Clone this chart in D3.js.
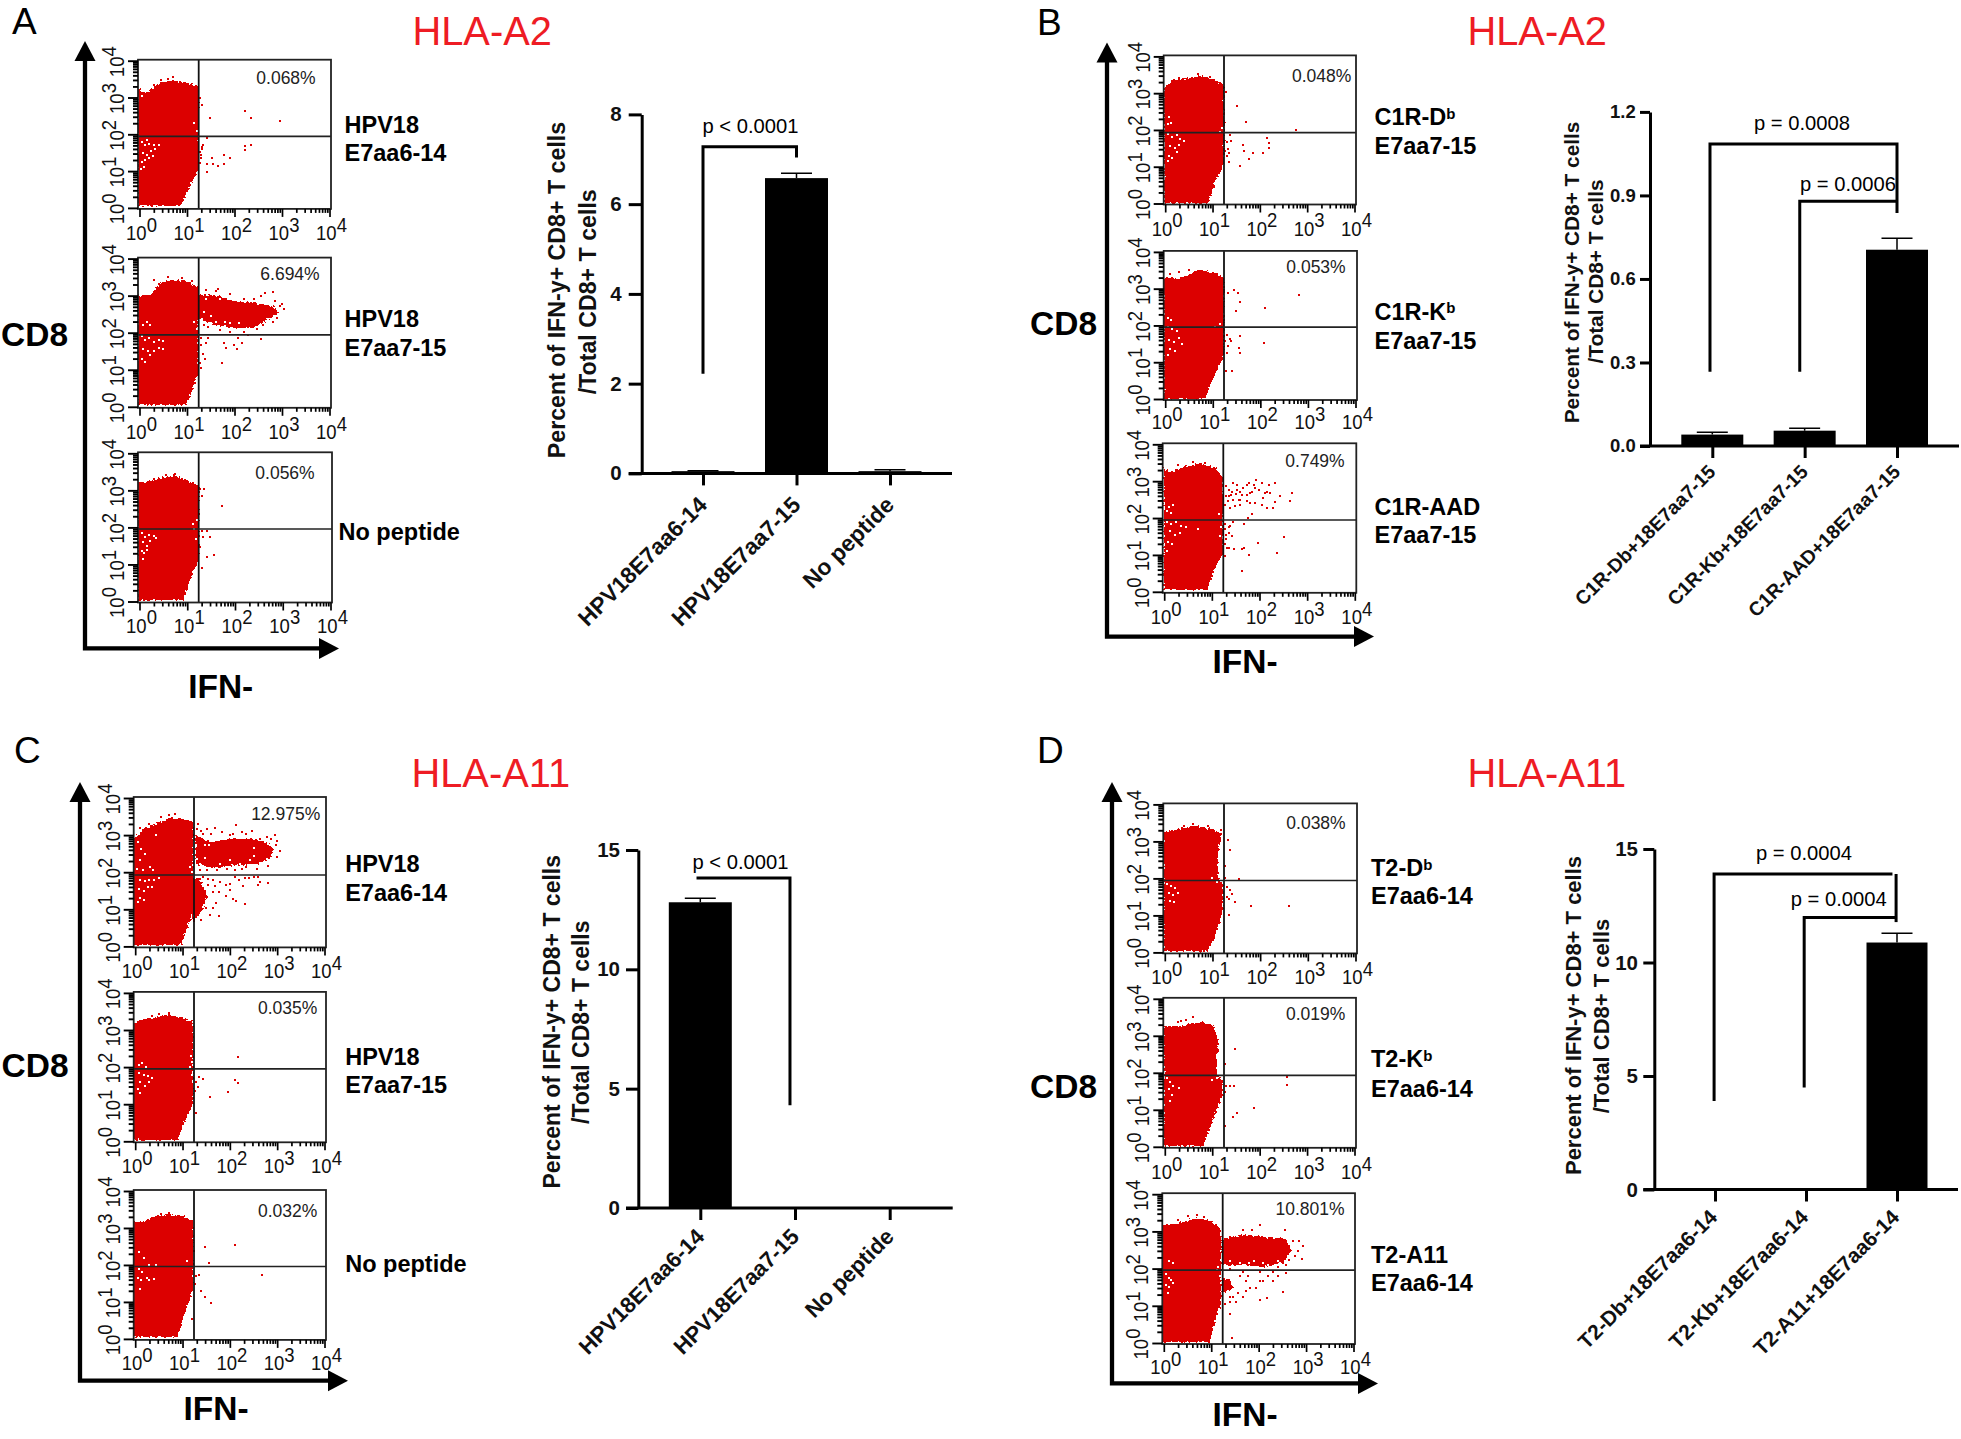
<!DOCTYPE html>
<html><head><meta charset="utf-8">
<script src="https://cdnjs.cloudflare.com/ajax/libs/d3/7.8.5/d3.min.js"></script>
<style>html,body{margin:0;padding:0;background:#fff}svg{display:block}text{font-family:"Liberation Sans",Arial,sans-serif}</style>
</head><body><svg id="c" width="1961" height="1439"></svg>
<script>
// ---- flow cytometry read-outs: all pairs are [log10 IFN, log10 CD8] ----
const flowExponents=[0,1,2,3,4];
const a1Cloud=[[[-.03,.04],[.85,.04],[1.02,.47],[1.23,1.03],[1.25,3.28],[1.06,3.38],[.71,3.46],[.42,3.4],[.25,3.2],[.07,3.14],[-.03,3.28]]];
const a1Events=[[1.31,2.8],[1.48,2.43],[2.22,2.64],[2.34,2.43],[2.96,2.37],[1.43,1.91],[2.22,1.68],[2.22,1.57],[2.34,1.72],[1.78,1.45],[1.9,1.35],[1.52,1.35],[1.43,1.18],[1.55,1.18],[1.66,1.13],[1.78,1.18],[1.43,.97],[1.31,1.66],[1.34,1.72],[1.27,1.53],[1.29,1.35],[1.27,1.22],[1.27,3.0],[1.3,1.45],[1.32,1.6],[.3,3.35],[.45,3.47],[.7,3.55],[.6,3.5],[.85,3.42],[1.1,3.3]];
const a1Holes=[[.05,1.8],[.12,1.7],[.2,1.75],[.3,1.72],[.08,1.5],[.16,1.45],[.25,1.55],[.33,1.6],[.05,1.25],[.12,1.3],[.2,1.35],[.1,1.1],[.04,1.05],[.4,1.7],[.15,1.85],[.28,1.4],[.06,3.05],[1.15,2.3],[1.2,2.1]];
const a2Cloud=[[[-.03,.04],[.99,.04],[1.23,.87],[1.25,3.22],[.99,3.39],[.71,3.43],[.42,3.34],[.25,3.03],[-.03,3.03]],[[1.25,3.03],[1.55,3.03],[1.98,2.85],[2.47,2.79],[2.82,2.72],[2.93,2.54],[2.68,2.35],[2.4,2.14],[1.98,2.14],[1.55,2.23],[1.25,2.41]]];
const a2Events=[[1.4,3.15],[1.6,3.12],[1.65,3.18],[1.9,3.05],[2.2,2.92],[2.4,2.9],[2.55,3.0],[2.65,3.08],[2.82,3.1],[2.85,2.85],[3.0,2.77],[3.05,2.65],[2.95,2.72],[2.9,2.4],[2.8,2.3],[2.6,2.2],[2.48,2.1],[2.2,2.02],[1.9,2.02],[1.7,2.08],[1.45,2.15],[1.35,2.2],[2.28,1.95],[1.41,1.73],[1.83,1.6],[1.77,1.73],[2.05,1.55],[2.15,1.73],[1.98,1.67],[2.08,1.86],[2.55,1.83],[1.73,1.18],[1.34,1.42],[1.45,1.86],[1.3,1.05],[1.27,1.18],[1.3,1.86],[1.38,1.3],[1.29,1.67],[.3,3.42],[.6,3.5],[.9,3.48],[1.1,3.4]];
const a2Holes=[[1.35,2.55],[1.5,2.45],[1.62,2.3],[1.8,2.3],[1.9,2.25],[2.1,2.25],[1.4,2.9],[1.7,2.9],[1.9,2.95],[1.3,2.25],[.05,1.9],[.12,1.8],[.2,1.85],[.3,1.75],[.4,1.8],[.5,1.78],[.08,1.55],[.18,1.5],[.3,1.5],[.4,1.6],[.05,1.3],[.12,1.2],[.22,1.4],[.5,1.55],[.08,2.2],[.15,2.3],[.22,2.2],[1.15,2.3],[1.2,2.1]];
const a3Cloud=[[[-.03,.04],[.92,.04],[1.09,.72],[1.25,1.16],[1.25,3.1],[.99,3.29],[.71,3.41],[.42,3.33],[.14,3.22],[-.03,3.22]]];
const a3Events=[[1.73,2.59],[1.27,3.04],[1.35,3.04],[1.3,2.85],[1.3,1.91],[1.41,1.91],[1.48,1.75],[1.34,1.75],[1.41,1.2],[1.55,1.25],[1.27,1.47],[1.3,.91],[.55,3.42],[.75,3.45],[.3,3.3]];
const a3Holes=[[.05,1.85],[.12,1.75],[.2,1.8],[.3,1.78],[.08,1.6],[.15,1.5],[.22,1.62],[.05,1.35],[.1,1.3],[.15,1.4],[.07,1.15],[.35,1.72],[1.12,2.1],[1.15,1.95],[1.18,1.7],[1.2,2.2]];
const b1Cloud=[[[-.02,.02],[.91,.02],[1.05,.57],[1.24,1.06],[1.24,3.19],[1.05,3.37],[.74,3.47],[.46,3.4],[.14,3.35],[-.02,3.12]]];
const b1Events=[[1.28,3.03],[1.52,2.64],[1.7,2.21],[2.76,1.99],[1.37,1.85],[1.3,1.67],[1.39,1.69],[1.33,1.48],[1.3,1.3],[1.35,1.12],[1.65,1.6],[1.66,1.42],[2.15,1.79],[2.19,1.64],[2.2,1.51],[1.85,1.36],[1.78,1.2],[2.06,1.36],[1.58,1.03],[1.35,1.36],[1.27,1.42],[.3,3.42],[.7,3.52],[.95,3.45]];
const b1Holes=[[.06,1.9],[.15,1.8],[.25,1.85],[.32,1.75],[.4,1.7],[.1,1.55],[.2,1.5],[.3,1.6],[.08,1.3],[.15,1.25],[.25,1.4],[.05,1.15],[.05,2.15],[.12,2.2],[.08,2.35],[1.15,1.95],[1.2,2.05]];
const b2Cloud=[[[-.02,.01],[.84,.01],[.98,.46],[1.24,1.2],[1.24,3.28],[1.02,3.44],[.7,3.52],[.39,3.31],[-.02,3.28]]];
const b2Events=[[1.33,2.87],[1.45,2.97],[1.52,2.89],[1.58,2.64],[1.49,2.4],[2.81,2.83],[2.1,2.48],[1.3,1.75],[1.37,1.63],[1.33,1.44],[1.3,1.26],[1.58,1.72],[1.56,1.38],[1.58,1.26],[2.07,1.51],[1.28,.77],[1.4,.75],[1.39,1.57],[1.26,1.57],[.1,3.4],[.3,3.45],[.5,3.5]];
const b2Holes=[[.06,1.95],[.15,1.9],[.25,1.85],[.08,1.6],[.18,1.55],[.3,1.65],[.1,1.35],[.2,1.3],[.05,1.2],[.05,2.2],[.12,2.15],[1.15,2.05],[1.05,1.95],[.35,1.5]];
const b3Cloud=[[[-.01,.04],[.9,.04],[1.07,.67],[1.24,1.04],[1.24,3.06],[1.07,3.36],[.76,3.49],[.41,3.39],[.13,3.24],[-.01,3.36]]];
const b3Events=[[1.30,2.86],[1.45,2.95],[1.53,2.90],[1.35,2.77],[1.42,2.72],[1.52,2.77],[1.66,2.81],[1.73,2.90],[1.77,2.95],[1.93,3.02],[1.84,2.72],[1.91,2.81],[1.98,2.77],[2.05,2.95],[2.20,2.90],[2.33,2.96],[2.15,2.72],[2.22,2.68],[2.08,2.54],[2.12,2.68],[2.05,2.36],[2.15,2.27],[2.28,2.27],[2.33,2.43],[2.43,2.59],[2.68,2.69],[2.64,2.47],[1.35,2.59],[1.45,2.50],[1.56,2.50],[1.63,2.63],[1.73,2.45],[1.80,2.68],[1.91,2.41],[1.28,2.36],[1.38,2.27],[1.49,2.32],[1.59,2.36],[1.80,2.41],[1.73,2.63],[1.84,2.11],[1.75,2.00],[1.45,1.90],[1.68,1.83],[2.52,1.48],[1.96,1.31],[2.36,1.04],[1.68,1.20],[1.63,1.15],[1.77,.99],[1.47,1.15],[1.35,1.20],[1.64,.57],[1.38,1.78],[1.37,1.60],[1.30,1.42],[1.31,1.20],[1.42,1.51],[1.28,.97],[1.3,2.6],[1.33,2.45],[1.4,2.62],[1.5,2.65],[1.6,2.5],[1.28,1.7],[1.3,1.55],[1.35,1.75],[1.27,1.3],[1.88,2.9],[1.6,2.72],[1.28,1.85],[.3,3.45],[.6,3.52],[.85,3.5]];
const b3Holes=[[.05,1.9],[.15,1.85],[.25,1.9],[.35,1.78],[.45,1.75],[.12,1.65],[.22,1.55],[.33,1.6],[.08,1.35],[.16,1.3],[.06,1.1],[.05,2.2],[.1,2.3],[.15,2.15],[.18,2.35],[1.15,2.1],[1.2,1.75],[1.18,1.5],[.7,1.7]];
const c1Cloud=[[[-.04,.04],[.97,.04],[1.11,.54],[1.23,.91],[1.23,3.34],[1.0,3.46],[.72,3.46],[.44,3.3],[.16,3.15],[-.04,2.9]],[[1.28,2.99],[1.58,2.81],[2.07,2.90],[2.5,2.90],[2.78,2.81],[2.92,2.63],[2.85,2.39],[2.6,2.23],[2.14,2.19],[1.79,2.14],[1.5,2.14],[1.28,2.23]],[[1.23,1.84],[1.35,1.84],[1.53,1.35],[1.39,.91],[1.23,.66]]];
const c1Events=[[1.33,3.30],[1.52,3.17],[1.68,3.19],[1.83,3.08],[2.14,3.26],[2.07,3.03],[2.25,3.08],[2.46,3.10],[2.64,2.90],[2.78,2.94],[2.95,2.99],[2.99,2.85],[3.06,2.58],[2.99,2.41],[2.81,2.18],[2.67,2.32],[2.57,2.09],[2.35,2.14],[2.25,2.09],[2.11,2.05],[1.93,2.09],[1.72,2.05],[1.51,2.05],[1.37,2.05],[1.44,3.03],[1.61,3.03],[2.0,2.99],[2.35,3.03],[2.88,2.90],[2.98,2.72],[1.30,3.17],[1.40,3.12],[1.26,2.9],[1.30,2.58],[2.11,1.87],[2.32,1.85],[2.50,1.87],[2.60,1.87],[2.81,1.71],[2.64,1.73],[2.27,1.64],[2.0,1.69],[1.79,1.73],[1.68,1.64],[1.54,1.82],[1.44,1.87],[1.37,1.64],[1.33,1.55],[2.0,1.51],[1.64,1.78],[1.92,1.66],[2.06,1.28],[2.31,1.13],[1.92,1.35],[1.78,.81],[1.57,.85],[1.39,.72],[1.5,1.03],[1.71,1.16],[1.64,1.47],[1.78,1.47],[2.2,1.78],[2.59,1.66],[2.8,1.72],[2.41,1.84],[1.64,1.03],[1.43,1.53],[1.53,1.66],[2.13,1.22],[1.28,.79],[.85,3.58],[.72,3.55],[.55,3.5],[.3,3.3],[.1,3.2]];
const c1Holes=[[1.37,2.23],[1.47,2.39],[1.47,2.14],[1.56,2.72],[1.47,2.72],[2.5,2.66],[2.5,2.45],[2.0,2.33],[1.79,2.23],[2.21,2.23],[2.43,2.32],[2.78,2.36],[1.3,2.14],[1.3,2.36],[.1,1.8],[.2,1.75],[.3,1.8],[.4,1.8],[.5,1.85],[.08,1.55],[.18,1.5],[.28,1.6],[.35,1.6],[.1,1.3],[.18,1.25],[.05,1.2],[.06,2.81],[.13,2.63],[.2,2.49],[.1,2.32],[.31,2.14],[.17,2.05],[.03,2.09],[.38,2.05],[1.16,2.14],[.45,2.99],[1.2,2.0]];
const c2Cloud=[[[-.04,.04],[.9,.04],[1.02,.47],[1.23,1.03],[1.23,3.21],[1.0,3.34],[.72,3.4],[.44,3.34],[.16,3.28],[-.04,3.21]]];
const c2Events=[[2.18,2.28],[2.1,1.66],[2.18,1.57],[1.97,1.32],[1.57,1.2],[1.43,1.69],[1.35,1.72],[1.28,1.6],[1.32,1.47],[1.27,1.35],[1.28,.76],[.72,3.47],[.5,3.42],[.35,3.38],[.85,3.36]];
const c2Holes=[[.08,2.05],[.15,2.1],[.22,2.0],[.08,1.85],[.18,1.8],[.28,1.75],[.35,1.7],[.1,1.6],[.2,1.5],[.3,1.6],[.05,1.4],[.1,1.3],[1.17,2.3],[1.2,2.15],[1.15,2.0],[1.2,1.8]];
const c3Cloud=[[[-.04,.04],[.9,.04],[1.02,.61],[1.23,1.36],[1.23,3.17],[1.0,3.33],[.72,3.35],[.44,3.33],[.16,3.17],[-.04,3.17]]];
const c3Events=[[2.1,2.53],[1.47,2.48],[1.55,2.06],[1.25,2.38],[2.67,1.72],[1.28,1.71],[1.35,1.73],[1.27,1.48],[1.39,1.3],[1.47,1.13],[1.6,.98],[1.2,.55],[.72,3.4],[.55,3.38],[.85,3.3]];
const c3Holes=[[.08,1.9],[.15,1.8],[.05,1.65],[.12,1.6],[.25,1.65],[.4,1.62],[.3,1.6],[.1,1.35],[.07,2.35],[.18,2.2],[.3,2.0],[.45,2.0],[1.1,2.1]];
const d1Cloud=[[[-.02,.04],[.91,.04],[1.09,.57],[1.23,1.2],[1.23,1.85],[1.12,2.0],[1.12,2.7],[1.2,3.2],[.95,3.35],[.6,3.42],[.25,3.32],[-.02,3.26]]];
const d1Events=[[1.32,3.04],[1.37,2.76],[1.26,2.33],[1.56,1.99],[1.3,1.76],[1.37,1.7],[1.4,1.58],[1.3,1.51],[1.35,1.45],[1.47,1.36],[1.81,1.25],[2.6,1.25],[1.35,1.01],[1.26,2.01],[.4,3.42],[.6,3.48],[.9,3.42],[1.17,3.3]];
const d1Holes=[[.05,1.85],[.12,1.8],[.22,1.75],[.08,1.6],[.18,1.55],[.28,1.6],[.1,1.4],[.2,1.35],[1.1,1.9],[.98,2.0]];
const d2Cloud=[[[-.02,.03],[.81,.03],[.98,.63],[1.23,1.44],[1.23,1.75],[1.1,2.0],[1.12,2.88],[1.02,3.28],[.74,3.38],[.39,3.28],[-.02,3.25]]];
const d2Events=[[1.47,2.65],[1.26,2.25],[2.58,1.9],[2.58,1.66],[1.3,1.63],[1.37,1.63],[1.45,1.63],[1.26,1.48],[1.89,1.06],[1.52,.91],[1.44,.81],[1.26,.56],[.6,3.5],[.35,3.4],[.45,3.42],[.28,3.38]];
const d2Holes=[[.05,1.85],[.12,1.75],[.18,1.65],[.08,1.55],[.15,1.4],[.3,1.6],[.1,1.25],[1.1,1.85],[1.0,1.8],[1.18,1.3],[1.1,1.0]];
const d3Cloud=[[[-.03,.04],[.97,.04],[1.11,.72],[1.21,1.04],[1.21,3.04],[1.0,3.29],[.69,3.35],[.34,3.23],[-.03,3.16]],[[1.235,2.79],[1.67,2.91],[2.23,2.85],[2.58,2.79],[2.69,2.48],[2.51,2.16],[2.09,2.04],[1.67,2.1],[1.235,2.1]],[[1.235,1.73],[1.39,1.73],[1.46,1.48],[1.235,1.35]]];
const d3Events=[[1.67,3.04],[2.02,3.16],[1.85,3.04],[2.55,3.04],[1.39,2.85],[2.72,2.73],[2.86,2.73],[2.83,2.48],[2.93,2.6],[2.92,2.25],[2.76,2.35],[2.65,2.23],[2.58,2.1],[2.41,2.04],[1.39,1.98],[1.67,1.91],[2.02,1.91],[2.3,1.91],[2.58,1.89],[2.41,1.79],[2.2,1.79],[2.02,1.66],[1.74,1.66],[1.6,1.79],[1.46,1.23],[1.67,1.25],[1.39,1.1],[2.02,1.16],[2.18,1.2],[2.51,1.38],[1.74,1.41],[1.56,1.35],[1.28,1.04],[1.44,.14],[1.39,.79],[1.53,1.1],[1.81,1.48],[1.39,1.23],[2.09,1.66],[1.95,1.48],[2.3,1.66],[1.78,1.79],[.5,3.42],[.7,3.45],[.85,3.38],[.3,3.3]];
const d3Holes=[[.1,2.2],[.2,2.15],[.05,1.85],[.1,1.75],[.15,1.7],[.05,1.55],[.12,1.5],[.2,1.6],[.08,1.35],[1.15,2.05],[1.12,1.95],[1.2,1.6],[1.18,1.8],[1.4,2.2],[1.6,2.15],[1.8,2.15],[1.9,2.2],[2.1,2.15],[2.2,2.1],[2.4,2.2],[1.5,2.05]];

// ---- percentages and row labels ----
const panelAPct=["0.068%","6.694%","0.056%"], panelBPct=["0.048%","0.053%","0.749%"], panelCPct=["12.975%","0.035%","0.032%"], panelDPct=["0.038%","0.019%","10.801%"];
const panelALabels=[["HPV18","","E7aa6-14"],["HPV18","","E7aa7-15"],["No peptide","",""]];
const panelBLabels=[["C1R-D","b","E7aa7-15"],["C1R-K","b","E7aa7-15"],["C1R-AAD","","E7aa7-15"]];
const panelCLabels=[["HPV18","","E7aa6-14"],["HPV18","","E7aa7-15"],["No peptide","",""]];
const panelDLabels=[["T2-D","b","E7aa6-14"],["T2-K","b","E7aa6-14"],["T2-A11","","E7aa6-14"]];

// ---- bar charts ----
const chartACats=["HPV18E7aa6-14","HPV18E7aa7-15","No peptide"], chartAVals=[.05,6.58,.05], chartAErr=[.06,6.69,.08], chartATicks=[0,2,4,6,8];
const chartBCats=["C1R-Db+18E7aa7-15","C1R-Kb+18E7aa7-15","C1R-AAD+18E7aa7-15"], chartBVals=[.041,.055,.705], chartBErr=[.049,.064,.746], chartBTicks=[0,.3,.6,.9,1.2];
const chartCCats=["HPV18E7aa6-14","HPV18E7aa7-15","No peptide"], chartCVals=[12.81,0,0], chartCErr=[12.98,0,0], chartCTicks=[0,5,10,15];
const chartDCats=["T2-Db+18E7aa6-14","T2-Kb+18E7aa6-14","T2-A11+18E7aa6-14"], chartDVals=[0,0,10.88], chartDErr=[0,0,11.29], chartDTicks=[0,5,10,15];
// brackets: [category index, value] polylines
const chartABrackets=[[[0,2.22],[0,7.28],[1,7.28],[1,7.04]]];
const chartBBrackets=[[[-.025,.267],[-.025,1.085],[2,1.085],[2,.837]],[[.947,.267],[.947,.879],[2,.879]]];
const chartCBrackets=[[[-.04,13.83],[.947,13.83],[.947,4.3]]];
const chartDBrackets=[[[-.01,3.9],[-.01,13.9],[1.95,13.9]],[[1.99,13.9],[1.99,11.78]],[[.98,4.49],[.98,11.98],[1.99,11.98]]];

const svg=d3.select("#c");
svg.append("rect").attr("width",1961).attr("height",1439).attr("fill","#fff");
const RED="#dc0000";
// pixel-ragged edge for the dense clouds
const rough=svg.append("defs").append("filter").attr("id","rough").attr("x","-3%").attr("y","-3%").attr("width","106%").attr("height","106%").attr("color-interpolation-filters","sRGB");
rough.append("feTurbulence").attr("type","fractalNoise").attr("baseFrequency",.45).attr("numOctaves",1).attr("seed",4).attr("result","n");
rough.append("feDisplacementMap").attr("in","SourceGraphic").attr("in2","n").attr("scale",6).attr("xChannelSelector","R").attr("yChannelSelector","G");
let clipId=0;
function text(g,x,y,s,o={}){
  return g.append("text").attr("x",x).attr("y",y).text(s)
    .attr("font-size",o.size||20).attr("font-weight",o.bold?"bold":"normal")
    .attr("text-anchor",o.anchor||"start").attr("fill",o.fill||"#000");
}
function flow(p){
  const g=svg.append("g");
  const x=d3.scaleLog().domain([1,1e4]).range([p.L+1.5,p.R-1.5]);
  const y=d3.scaleLog().domain([1,1e4]).range([p.B-1,p.T+1]);
  const X=d=>x(Math.pow(10,d)),Y=d=>y(Math.pow(10,d));
  const id="clip"+(clipId++);
  g.append("clipPath").attr("id",id).append("rect").attr("x",p.L).attr("y",p.T).attr("width",p.R-p.L).attr("height",p.B-p.T);
  g.append("rect").attr("x",p.L).attr("y",p.T).attr("width",p.R-p.L).attr("height",p.B-p.T).attr("fill","#fff");
  const inner=g.append("g").attr("clip-path",`url(#${id})`);
  const line=d3.line().x(d=>X(d[0])).y(d=>Y(d[1]));
  inner.append("g").attr("filter","url(#rough)").selectAll("path.cloud").data(p.cloud).join("path").attr("class","cloud")
    .attr("d",d=>line(d)+"Z").attr("fill",RED).attr("shape-rendering","crispEdges");
  inner.selectAll("rect.ev").data(p.events).join("rect").attr("class","ev")
    .attr("x",d=>Math.round(X(d[0])-1)).attr("y",d=>Math.round(Y(d[1])-1)).attr("width",2).attr("height",2).attr("fill",RED).attr("shape-rendering","crispEdges");
  inner.selectAll("rect.ho").data(p.holes).join("rect").attr("class","ho")
    .attr("x",d=>Math.round(X(d[0])-1)).attr("y",d=>Math.round(Y(d[1])-1)).attr("width",2).attr("height",2).attr("fill","#fff").attr("shape-rendering","crispEdges");
  // gates + box
  g.append("line").attr("x1",p.gx).attr("x2",p.gx).attr("y1",p.T).attr("y2",p.B).attr("stroke","#111").attr("stroke-width",1.8);
  g.append("line").attr("x1",p.L).attr("x2",p.R).attr("y1",p.gy).attr("y2",p.gy).attr("stroke","#222").attr("stroke-width",1.7);
  g.append("rect").attr("x",p.L).attr("y",p.T).attr("width",p.R-p.L).attr("height",p.B-p.T).attr("fill","none").attr("stroke","#222").attr("stroke-width",1.8);
  // axes: majors long, minors short
  const isMajor=v=>Math.abs(Math.log10(v)-Math.round(Math.log10(v)))<1e-6;
  const ax=g.append("g").attr("transform",`translate(0,${p.B})`).call(d3.axisBottom(x).tickValues(x.ticks()).tickFormat("").tickSizeOuter(0));
  ax.select(".domain").remove();
  ax.selectAll(".tick line").attr("y2",d=>isMajor(d)?8:4).attr("stroke","#000").attr("stroke-width",1.7);
  const ay=g.append("g").attr("transform",`translate(${p.L},0)`).call(d3.axisLeft(y).tickValues(y.ticks()).tickFormat("").tickSizeOuter(0));
  ay.select(".domain").remove();
  ay.selectAll(".tick line").attr("x2",d=>isMajor(d)?-10:-5).attr("stroke","#000").attr("stroke-width",1.9);
  // labels
  flowExponents.forEach(e=>{
    const t=g.append("g").attr("transform",`translate(${x(Math.pow(10,e))+2},${p.B+p.xl}) scale(.95,1)`)
      .append("text").attr("text-anchor","middle").attr("font-size",19.5).attr("fill","#111");
    t.append("tspan").text("10");
    t.append("tspan").attr("dy","-.42em").text(e);
    const u=g.append("g").attr("transform",`translate(${p.L-14},${y(Math.pow(10,e))+1}) rotate(-90) scale(.95,1)`)
      .append("text").attr("text-anchor","middle").attr("font-size",19.5).attr("fill","#111");
    u.append("tspan").text("10");
    u.append("tspan").attr("dy","-.42em").text(e);
  });
  text(g,p.px,p.py,p.pct,{size:17.5,anchor:"middle",fill:"#222"});
  const lb=text(g,p.lx,p.ly1,p.label[0],{size:23.5,bold:true});
  if(p.label[1]) lb.append("tspan").attr("dy","-.42em").attr("font-size",15).text(p.label[1]);
  if(p.label[2]) text(g,p.lx,p.ly2,p.label[2],{size:23.5,bold:true});
}
function axes(a){
  const g=svg.append("g");
  g.append("path").attr("d",`M${a.x},${a.tip+15}V${a.corner}H${a.end-15}`).attr("fill","none").attr("stroke","#000").attr("stroke-width",4.3);
  g.append("path").attr("d",`M${a.x},${a.tip}l10.5,20h-21Z`).attr("fill","#000");
  g.append("path").attr("d",`M${a.end},${a.corner}l-20,-10.5v21Z`).attr("fill","#000");
  text(g,a.cdX,a.cdY,"CD8",{size:33.5,bold:true});
  text(g,a.ifX,a.ifY,"IFN-",{size:33.5,bold:true,anchor:"middle"});
  text(g,a.letX,a.letY,a.letter,{size:37});
  text(g,a.hlaX,a.hlaY,a.hla,{size:39.8,fill:"#ee1c24"});
}
function bars(c){
  const g=svg.append("g");
  const y=d3.scaleLinear().domain([0,c.max]).range([c.y0,c.y1]);
  const x=d3.scalePoint().domain(c.cats).range([c.x0,c.x1]);
  const xi=d3.scaleLinear().domain([0,2]).range([c.x0,c.x1]);
  const ax=g.append("g").attr("transform",`translate(0,${c.y0})`).call(d3.axisBottom(x).tickSize(c.tickB).tickSizeOuter(0));
  ax.select(".domain").remove();
  ax.selectAll(".tick line").attr("stroke","#000").attr("stroke-width",3);
  ax.selectAll(".tick text").attr("font-family","Liberation Sans").attr("font-weight","bold").attr("font-size",c.catSize).attr("fill","#111")
    .attr("text-anchor","end").attr("dy",0).attr("y",0).attr("x",0)
    .attr("transform",`translate(${c.catDx},${c.catDy}) rotate(-45)`);
  const ay=g.append("g").attr("transform",`translate(${c.ax},0)`).call(d3.axisLeft(y).tickValues(c.ticks).tickFormat(c.fmt).tickSize(c.tickL).tickSizeOuter(0));
  ay.select(".domain").attr("stroke","#000").attr("stroke-width",3);
  ay.selectAll(".tick line").attr("stroke","#000").attr("stroke-width",3);
  ay.selectAll(".tick text").attr("font-family","Liberation Sans").attr("font-weight","bold").attr("font-size",c.numSize).attr("fill","#111").attr("x",-(c.ax-c.numR));
  g.append("line").attr("x1",c.ax-c.tickL).attr("x2",c.xEnd).attr("y1",c.y0).attr("y2",c.y0).attr("stroke","#000").attr("stroke-width",3);
  g.selectAll("rect.bar").data(c.vals).join("rect").attr("class","bar")
    .attr("x",(d,i)=>x(c.cats[i])-c.w/2).attr("width",c.w).attr("y",d=>y(d)).attr("height",d=>y(0)-y(d)).attr("fill","#000");
  c.vals.forEach((v,i)=>{ if(!v) return;
    const cx=x(c.cats[i]);
    g.append("path").attr("d",`M${cx},${y(v)}V${y(c.err[i])}M${cx-15.5},${y(c.err[i])}H${cx+15.5}`).attr("stroke","#000").attr("stroke-width",1.5).attr("fill","none");
  });
  const ln=d3.line().x(d=>xi(d[0])).y(d=>y(d[1]));
  g.selectAll("path.br").data(c.brackets).join("path").attr("class","br").attr("d",ln).attr("fill","none").attr("stroke","#000").attr("stroke-width",3);
  c.p.forEach(t=>text(g,t[0],t[1],t[2],{size:20.2,anchor:"middle"}));
  [[c.t1x,c.t1c,"Percent of IFN-y+ CD8+ T cells"],[c.t2x,c.t2c,"/Total CD8+ T cells"]].forEach(t=>{
    g.append("g").attr("transform",`translate(${t[0]},${t[1]}) rotate(-90)`).append("text").attr("text-anchor","middle")
      .attr("font-size",c.titleSize).attr("font-weight","bold").attr("fill","#111").text(t[2]);
  });
}
const lay=(L,R,T,B,gx,gy,xl,pct,px,py,label,lx,ly1,ly2,cloud,events,holes)=>({L,R,T,B,gx,gy,xl,pct,px,py,label,lx,ly1,ly2,cloud,events,holes});
flow(lay(138,331,59.7,208.9,198.7,136.4,31,panelAPct[0],286,84,panelALabels[0],344.5,132.5,160.7,a1Cloud,a1Events,a1Holes));
flow(lay(138,331,257.6,407.8,198.7,334.8,31,panelAPct[1],290,280,panelALabels[1],344.5,327,356,a2Cloud,a2Events,a2Holes));
flow(lay(138,332,452.3,602.5,198.7,529,30,panelAPct[2],285,478.5,panelALabels[2],338.5,539.6,0,a3Cloud,a3Events,a3Holes));
axes({x:85,tip:41,corner:648.4,end:339,cdX:1,cdY:345.5,ifX:220.7,ifY:698,letX:12,letY:34.4,letter:"A",hlaX:412.5,hlaY:44.5,hla:"HLA-A2"});
flow(lay(1163.7,1356,55.4,204.5,1224,132.6,31,panelBPct[0],1321.7,81.7,panelBLabels[0],1374.5,125,154,b1Cloud,b1Events,b1Holes));
flow(lay(1163.7,1357,250.9,400,1224,327.2,29,panelBPct[1],1316,273,panelBLabels[1],1374.5,319.5,349,b2Cloud,b2Events,b2Holes));
flow(lay(1162.7,1356.3,443.3,592.8,1223.3,520,31,panelBPct[2],1315,467,panelBLabels[2],1374.5,515,543.3,b3Cloud,b3Events,b3Holes));
axes({x:1107,tip:42.4,corner:636.6,end:1374,cdX:1030,cdY:334.8,ifX:1245,ifY:672.7,letX:1037,letY:34.8,letter:"B",hlaX:1467.5,hlaY:44.6,hla:"HLA-A2"});
flow(lay(133.7,326,797,947.4,194,875,31,panelCPct[0],285.7,820,panelCLabels[0],345.2,871.8,901,c1Cloud,c1Events,c1Holes));
flow(lay(133.7,326,991.9,1142.3,194,1068.9,31,panelCPct[1],287.7,1014.4,panelCLabels[1],345.2,1064.8,1092.8,c2Cloud,c2Events,c2Holes));
flow(lay(133.7,326,1190,1339.9,194,1266.5,30,panelCPct[2],287.7,1216.5,panelCLabels[2],345.2,1272,0,c3Cloud,c3Events,c3Holes));
axes({x:80,tip:781.9,corner:1380.7,end:348,cdX:1.5,cdY:1076.7,ifX:216,ifY:1420,letX:14,letY:762.6,letter:"C",hlaX:411.5,hlaY:787,hla:"HLA-A11"});
flow(lay(1163.3,1357,803.4,953.4,1224,880.5,31,panelDPct[0],1316,829,panelDLabels[0],1371,875.9,903.9,d1Cloud,d1Events,d1Holes));
flow(lay(1163.3,1356,997.8,1147.8,1224,1075.3,31,panelDPct[1],1315.7,1019.8,panelDLabels[1],1371,1067,1096.5,d2Cloud,d2Events,d2Holes));
flow(lay(1162.3,1355,1193.2,1344,1222.7,1270.2,30,panelDPct[2],1310,1215.2,panelDLabels[2],1371,1263,1290.8,d3Cloud,d3Events,d3Holes));
axes({x:1112,tip:781.9,corner:1383.4,end:1378,cdX:1030,cdY:1098.3,ifX:1245,ifY:1426,letX:1037,letY:762.6,letter:"D",hlaX:1467.5,hlaY:787,hla:"HLA-A11"});

const f0=d3.format("d"), f1=d3.format(".1f");
bars({cats:chartACats,vals:chartAVals,err:chartAErr,ticks:chartATicks,brackets:chartABrackets,max:8,y0:473.4,y1:114.4,x0:703,x1:890,ax:641.7,xEnd:952,w:63,tickB:12,tickL:13,fmt:f0,numSize:20.5,numR:621.7,catSize:22.8,catDx:5,catDy:33,titleSize:23.2,t1x:565,t1c:290,t2x:596,t2c:291.8,p:[[750.5,132.8,"p < 0.0001"]]});
bars({cats:chartBCats,vals:chartBVals,err:chartBErr,ticks:chartBTicks,brackets:chartBBrackets,max:1.2,y0:446,y1:111.9,x0:1712.3,x1:1897,ax:1650,xEnd:1959,w:62,tickB:12,tickL:10,fmt:f1,numSize:18.5,numR:1635.7,catSize:19.5,catDx:4,catDy:27,titleSize:20.8,t1x:1579,t1c:272.5,t2x:1603,t2c:271.5,p:[[1802,129.5,"p = 0.0008"],[1848,191,"p = 0.0006"]]});
bars({cats:chartCCats,vals:chartCVals,err:chartCErr,ticks:chartCTicks,brackets:chartCBrackets,max:15,y0:1208,y1:850,x0:700.3,x1:889.7,ax:638.3,xEnd:952.7,w:63,tickB:12,tickL:12.3,fmt:f0,numSize:20.5,numR:620,catSize:22.2,catDx:5,catDy:30,titleSize:23,t1x:560,t1c:1021.8,t2x:589,t2c:1022.2,p:[[740.5,868.6,"p < 0.0001"]]});
bars({cats:chartDCats,vals:chartDVals,err:chartDErr,ticks:chartDTicks,brackets:chartDBrackets,max:15,y0:1189.5,y1:849,x0:1715,x1:1897,ax:1654.3,xEnd:1958,w:61,tickB:12,tickL:11,fmt:f0,numSize:20.5,numR:1638,catSize:21,catDx:3,catDy:29,titleSize:22,t1x:1581,t1c:1015.5,t2x:1609,t2c:1016,p:[[1804,859.5,"p = 0.0004"],[1838.7,905.7,"p = 0.0004"]]});
</script></body></html>
